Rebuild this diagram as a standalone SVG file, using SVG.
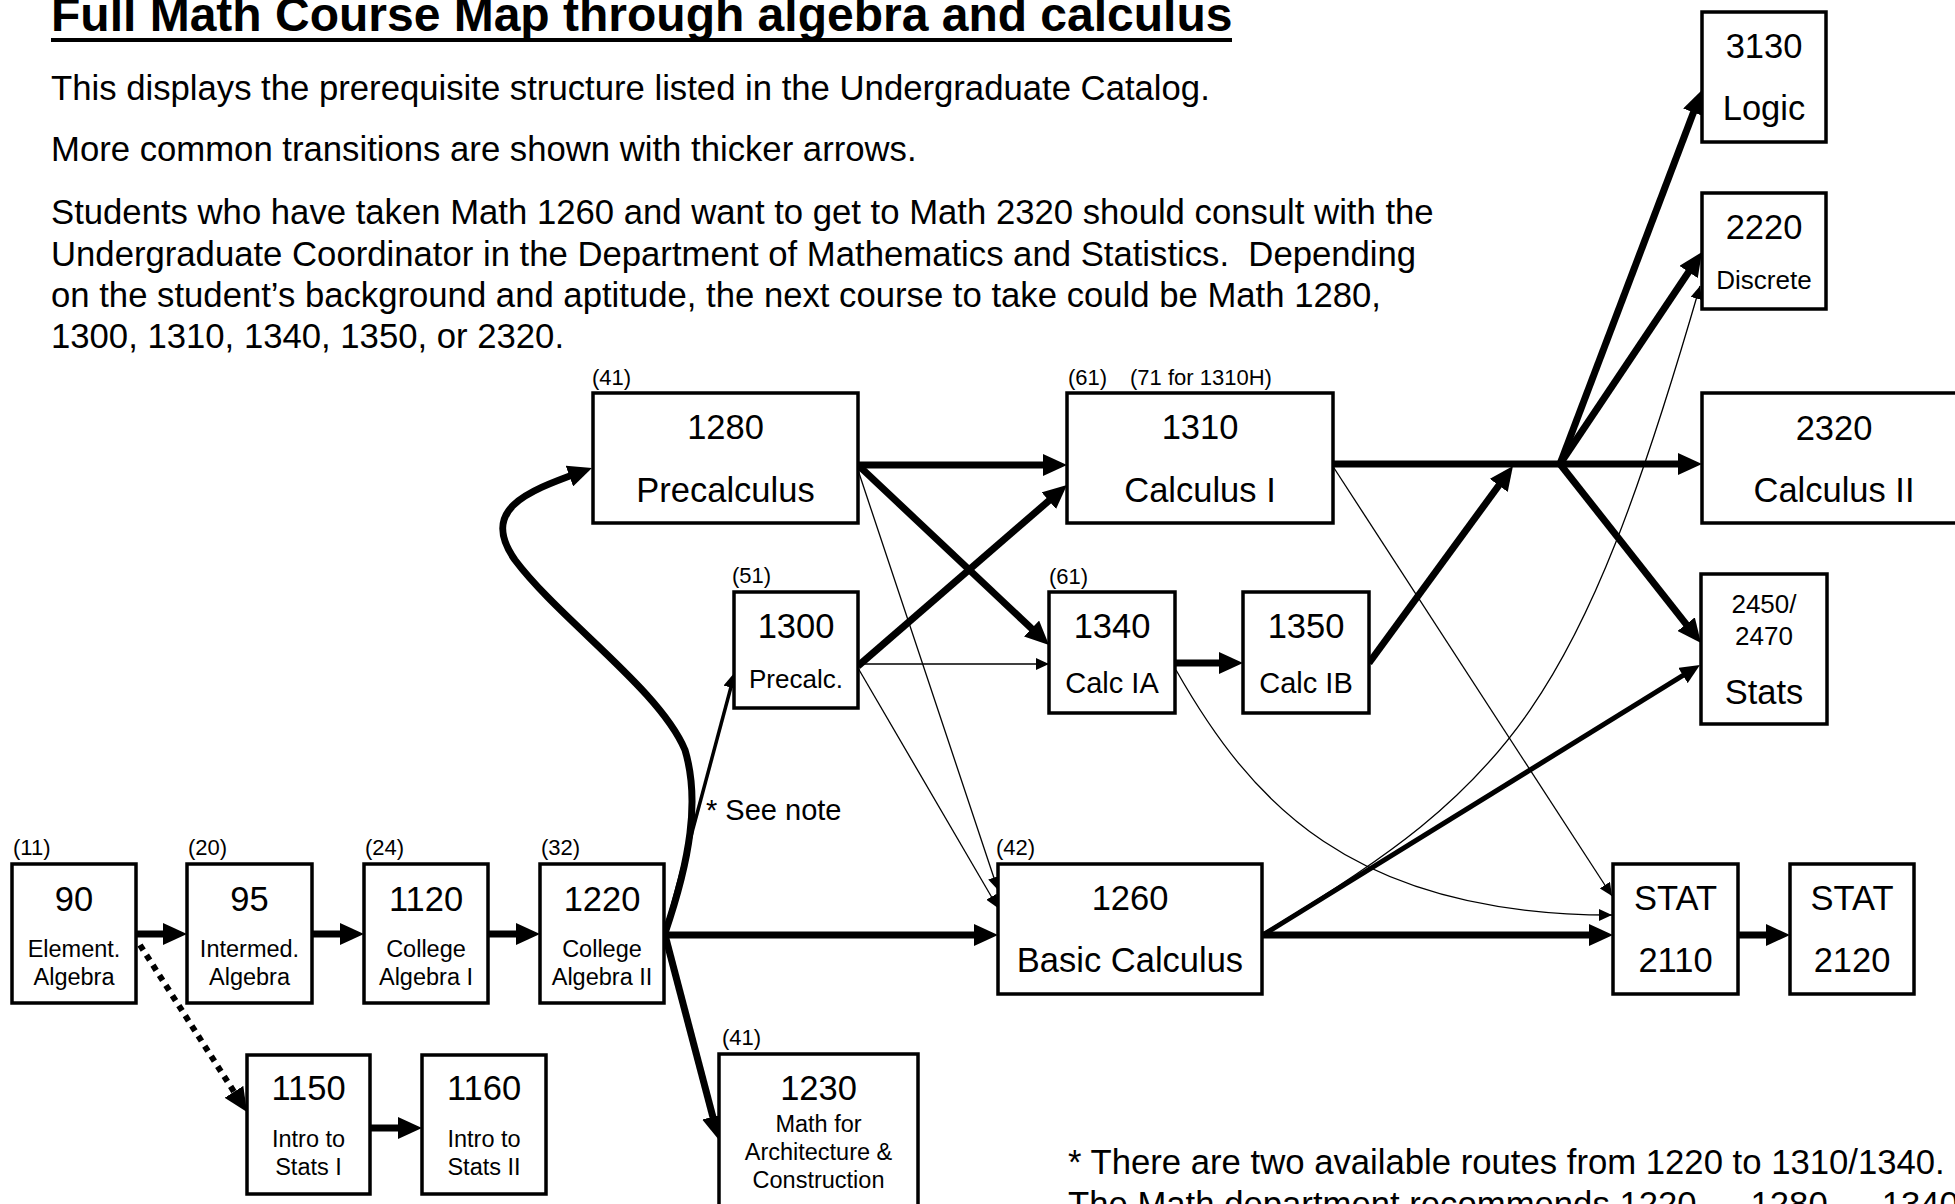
<svg xmlns="http://www.w3.org/2000/svg" width="1955" height="1204" viewBox="0 0 1955 1204">
<defs>
<style>
text { font-family: "Liberation Sans", Arial, sans-serif; fill: #000; }
.box { fill: #fff; stroke: #000; stroke-width: 3.5; }
.big { font-size: 34.5px; text-anchor: middle; }
.mid { font-size: 29px; text-anchor: middle; }
.s26 { font-size: 26px; text-anchor: middle; }
.sm { font-size: 23.5px; text-anchor: middle; }
.ann { font-size: 22px; }
.body { font-size: 34.7px; }
.title { font-size: 48px; font-weight: bold; }
.note { font-size: 34.7px; }
.c { fill: none; stroke: #000; }
.w7 { stroke-width: 7; marker-end: url(#hb); }
.w5 { stroke-width: 5; marker-end: url(#h5); }
.w3 { stroke-width: 3.5; marker-end: url(#hm); }
.w1 { stroke-width: 1.3; marker-end: url(#hs); }
.dot { stroke-width: 6; stroke-dasharray: 6 6; marker-end: url(#hb); }
</style>
<marker id="hb" markerUnits="userSpaceOnUse" viewBox="0 0 24 22" markerWidth="24" markerHeight="22" refX="12" refY="11" orient="auto"><path d="M0,0 L24,11 L0,22 z"/></marker>
<marker id="h5" markerUnits="userSpaceOnUse" viewBox="0 0 20 18" markerWidth="20" markerHeight="18" refX="11" refY="9" orient="auto"><path d="M0,0 L20,9 L0,18 z"/></marker>
<marker id="hm" markerUnits="userSpaceOnUse" viewBox="0 0 16 15" markerWidth="16" markerHeight="15" refX="9" refY="7.5" orient="auto"><path d="M0,0 L16,7.5 L0,15 z"/></marker>
<marker id="hs" markerUnits="userSpaceOnUse" viewBox="0 0 13 12" markerWidth="13" markerHeight="12" refX="13" refY="6" orient="auto"><path d="M0,0 L13,6 L0,12 z"/></marker>
</defs>
<rect width="1955" height="1204" fill="#fff"/>

<g id="header">
<text class="title" x="51" y="31">Full Math Course Map through algebra and calculus</text>
<rect x="51" y="38" width="1181" height="4" fill="#000"/>
<text class="body" x="51" y="100">This displays the prerequisite structure listed in the Undergraduate Catalog.</text>
<text class="body" x="51" y="161">More common transitions are shown with thicker arrows.</text>
<text class="body" x="51" y="224">Students who have taken Math 1260 and want to get to Math 2320 should consult with the</text>
<text class="body" x="51" y="265.5" xml:space="preserve">Undergraduate Coordinator in the Department of Mathematics and Statistics.  Depending</text>
<text class="body" x="51" y="307">on the student’s background and aptitude, the next course to take could be Math 1280,</text>
<text class="body" x="51" y="348">1300, 1310, 1340, 1350, or 2320.</text>
</g>

<g id="connectors">
<path class="c w7" d="M136,934 H175"/>
<path class="c w7" d="M312,934 H352"/>
<path class="c w7" d="M488,934 H528"/>
<path class="c w7" d="M370,1128 H410"/>
<path class="c w7" d="M665,935 H986"/>
<path class="c w7" d="M1263,935 H1601"/>
<path class="c w7" d="M1738,935 H1778"/>
<path class="c w7" d="M1175,663 H1231"/>
<path class="c w7" d="M858,465 H1055"/>
<path class="c w7" d="M1333,464 H1690"/>
<path class="c w7" d="M858,465 L1040.3,636.8"/>
<path class="c w7" d="M858,666 L1057.9,492.9"/>
<path class="c w7" d="M1369,663 L1505.9,475.7"/>
<path class="c w7" d="M1560,464 L1697.7,101.2"/>
<path class="c w7" d="M1560,464 L1695.3,262"/>
<path class="c w7" d="M1560,464 L1693.6,633.6"/>
<path class="c w7" d="M665,935 L715.9,1128.4"/>
<path class="c w7" d="M665,933 C690,860 700,800 685,750 C660,690 560,620 515,560 C480,510 525,492 580.7,472"/>
<path class="c dot" d="M140,945 L240.5,1101.9"/>
<path class="c w3" d="M665,933 L733.2,678.8"/>
<path class="c w5" d="M1263,935 L1692.3,669.7"/>
<path class="c w1" d="M858,664 H1049"/>
<path class="c w1" d="M858,470 L998,890"/>
<path class="c w1" d="M858,668 L998,908"/>
<path class="c w1" d="M1334,468 L1612,896"/>
<path class="c w1" d="M1176,670 C1250,800 1350,915 1612,915"/>
<path class="c w1" d="M1265,932 C1513,783 1579,704 1700,286"/>
</g>

<g id="n90">
<text class="ann" x="13" y="855">(11)</text>
<rect class="box" x="12" y="864" width="124" height="139"/>
<text class="big" x="74" y="911">90</text>
<text class="sm" x="74" y="957">Element.</text>
<text class="sm" x="74" y="985">Algebra</text>
</g>
<g id="n95">
<text class="ann" x="188" y="855">(20)</text>
<rect class="box" x="187" y="864" width="125" height="139"/>
<text class="big" x="249.5" y="911">95</text>
<text class="sm" x="249.5" y="957">Intermed.</text>
<text class="sm" x="249.5" y="985">Algebra</text>
</g>
<g id="n1120">
<text class="ann" x="365" y="855">(24)</text>
<rect class="box" x="364" y="864" width="124" height="139"/>
<text class="big" x="426" y="911">1120</text>
<text class="sm" x="426" y="957">College</text>
<text class="sm" x="426" y="985">Algebra I</text>
</g>
<g id="n1220">
<text class="ann" x="541" y="855">(32)</text>
<rect class="box" x="540" y="864" width="124" height="139"/>
<text class="big" x="602" y="911">1220</text>
<text class="sm" x="602" y="957">College</text>
<text class="sm" x="602" y="985">Algebra II</text>
</g>
<g id="n1150">
<rect class="box" x="247" y="1055" width="123" height="139"/>
<text class="big" x="308.5" y="1100">1150</text>
<text class="sm" x="308.5" y="1147">Intro to</text>
<text class="sm" x="308.5" y="1175">Stats I</text>
</g>
<g id="n1160">
<rect class="box" x="422" y="1055" width="124" height="139"/>
<text class="big" x="484" y="1100">1160</text>
<text class="sm" x="484" y="1147">Intro to</text>
<text class="sm" x="484" y="1175">Stats II</text>
</g>
<g id="n1230">
<text class="ann" x="722" y="1045">(41)</text>
<rect class="box" x="719" y="1054" width="199" height="160"/>
<text class="big" x="818.5" y="1100">1230</text>
<text class="sm" x="818.5" y="1132">Math for</text>
<text class="sm" x="818.5" y="1160">Architecture &amp;</text>
<text class="sm" x="818.5" y="1188">Construction</text>
</g>
<g id="n1280">
<text class="ann" x="592" y="385">(41)</text>
<rect class="box" x="593" y="393" width="265" height="130"/>
<text class="big" x="725.5" y="439">1280</text>
<text class="big" x="725.5" y="502">Precalculus</text>
</g>
<g id="n1300">
<text class="ann" x="732" y="583">(51)</text>
<rect class="box" x="734" y="592" width="124" height="116"/>
<text class="big" x="796" y="638">1300</text>
<text class="s26" x="796" y="688">Precalc.</text>
</g>
<g id="n1310">
<text class="ann" x="1068" y="385">(61)</text>
<text class="ann" x="1130" y="385">(71 for 1310H)</text>
<rect class="box" x="1067" y="393" width="266" height="130"/>
<text class="big" x="1200" y="439">1310</text>
<text class="big" x="1200" y="502">Calculus I</text>
</g>
<g id="n1340">
<text class="ann" x="1049" y="584">(61)</text>
<rect class="box" x="1049" y="592" width="126" height="121"/>
<text class="big" x="1112" y="638">1340</text>
<text class="mid" x="1112" y="693">Calc IA</text>
</g>
<g id="n1350">
<rect class="box" x="1243" y="592" width="126" height="121"/>
<text class="big" x="1306" y="638">1350</text>
<text class="mid" x="1306" y="693">Calc IB</text>
</g>
<g id="n1260">
<text class="ann" x="996" y="855">(42)</text>
<rect class="box" x="998" y="864" width="264" height="130"/>
<text class="big" x="1130" y="910">1260</text>
<text class="big" x="1130" y="972">Basic Calculus</text>
</g>
<g id="nstat2110">
<rect class="box" x="1613" y="864" width="125" height="130"/>
<text class="big" x="1675.5" y="910">STAT</text>
<text class="big" x="1675.5" y="972">2110</text>
</g>
<g id="nstat2120">
<rect class="box" x="1790" y="864" width="124" height="130"/>
<text class="big" x="1852" y="910">STAT</text>
<text class="big" x="1852" y="972">2120</text>
</g>
<g id="n3130">
<rect class="box" x="1702" y="12" width="124" height="130"/>
<text class="big" x="1764" y="58">3130</text>
<text class="big" x="1764" y="120">Logic</text>
</g>
<g id="n2220">
<rect class="box" x="1702" y="193" width="124" height="116"/>
<text class="big" x="1764" y="239">2220</text>
<text class="s26" x="1764" y="289">Discrete</text>
</g>
<g id="n2320">
<rect class="box" x="1702" y="393" width="264" height="130"/>
<text class="big" x="1834" y="440">2320</text>
<text class="big" x="1834" y="502">Calculus II</text>
</g>
<g id="n2450">
<rect class="box" x="1701" y="574" width="126" height="150"/>
<text class="s26" x="1764" y="613">2450/</text>
<text class="s26" x="1764" y="645">2470</text>
<text class="big" x="1764" y="704">Stats</text>
</g>

<g id="notes">
<text class="mid" x="706" y="820" style="text-anchor:start">* See note</text>
<text class="note" x="1068" y="1174">* There are two available routes from 1220 to 1310/1340.</text>
<text class="note" x="1068" y="1216">The Math department recommends 1220 → 1280 → 1340.</text>
</g>
</svg>
